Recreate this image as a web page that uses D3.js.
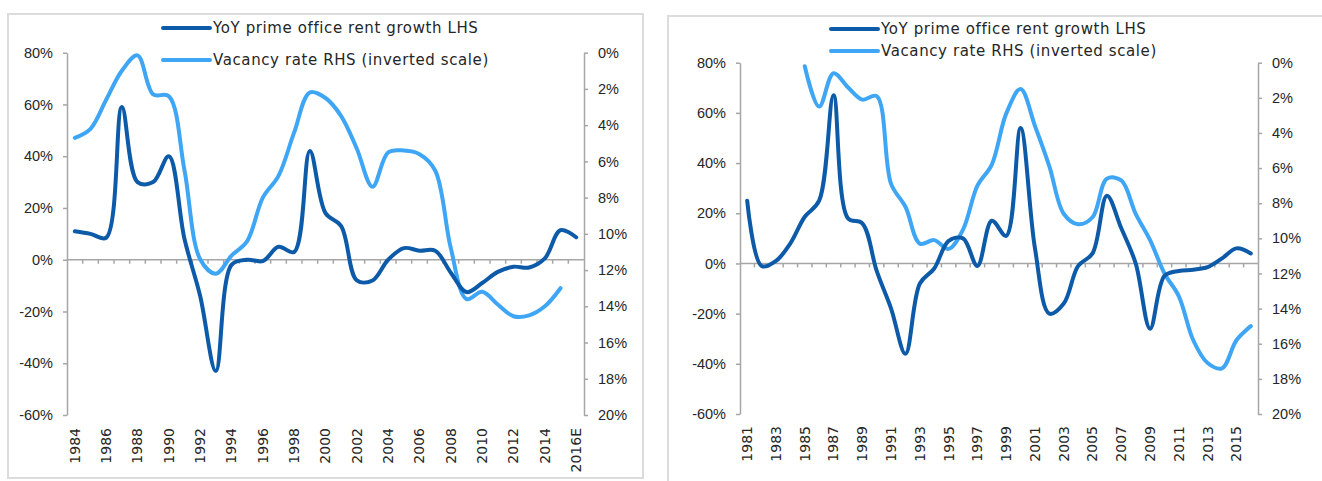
<!DOCTYPE html>
<html>
<head>
<meta charset="utf-8">
<script src="https://cdn.jsdelivr.net/npm/d3@7"></script>
<style>
  body { margin: 0; background: #fff; }
  svg { display: block; font-family: "DejaVu Sans", sans-serif; }
  .axis path, .axis line { stroke: #a6a6a6; stroke-width: 1.5; }
  .axis text { fill: #262626; font-size: 14.5px; }
  .cat-label { fill: #262626; font-size: 14px; }
  .legend text { fill: #262626; font-size: 15px; letter-spacing: 0.6px; }
</style>
</head>
<body>
<svg id="chart" width="1322" height="481"></svg>
<script>
// left panel: 1984 - 2016E
const yearsA = d3.range(1984, 2016).map(String).concat(['2016E'])
const rentA = [11, 10, 8.5, 59, 30, 30, 40, 8, -14, -43, -2, 0, -0.5, 5, 3, 42,
  18, 13, -8, -8, 0, 4.5, 3.5, 3.5, -5, -12.5, -9, -4.7, -2.7, -3, 0.5, 11.4, 8.7]
const vacA = [4.7, 4.2, 2.6, 1.0, 0.15, 2.3, 2.4, 6.5, 11.4, 12.2, 11.2, 10.4, 8.0,
  6.8, 4.4, 2.2, 2.5, 3.5, 5.3, 7.4, 5.5, 5.4, 5.6, 6.5, 10.8, 13.6, 13.2, 13.9,
  14.55, 14.5, 14.0, 13.0, null]

// right panel: 1981 - 2016
const yearsB = d3.range(1981, 2017).map(String)
const rentB = [25, -1, 1, 8, 18.6, 25, 67, 18, 16, -3, -18, -36, -8, -2, 9, 10, -1,
  17, 11, 54, 6, -20, -16, -1, 4, 27, 14, 0, -26, -5, -3, -2.5, -1.5, 2, 6, 4]
const vacB = [null, null, null, null, 0.2, 2.5, 0.6, 1.4, 2.1, 1.9, 6.9, 8.2, 10.3,
  10.1, 10.6, 9.5, 7.0, 5.8, 2.9, 1.5, 3.6, 5.9, 8.6, 9.2, 8.8, 6.6, 6.7, 8.6,
  10.1, 12.0, 13.3, 15.8, 17.1, 17.4, 15.8, 15.0]

const lhsTicks = [-60, -40, -20, 0, 20, 40, 60, 80]
const rhsTicks = [0, 2, 4, 6, 8, 10, 12, 14, 16, 18, 20]
const legendLabels = ['YoY prime office rent growth LHS', 'Vacancy rate RHS (inverted scale)']

const darkBlue = '#0d5ba8'
const lightBlue = '#3ea6f4'

const svg = d3.select('#chart')

// panel frames
svg.append('rect').attr('x', 8).attr('y', 14).attr('width', 635).attr('height', 464)
  .attr('fill', 'none').attr('stroke', '#dcdcdc').attr('stroke-width', 2)
svg.append('rect').attr('x', 668).attr('y', 16).attr('width', 700).attr('height', 480)
  .attr('fill', 'none').attr('stroke', '#dcdcdc').attr('stroke-width', 2)

function drawPanel(p) {
  const g = svg.append('g')

  const x = d3.scaleBand().domain(p.years).range([p.left, p.right]).padding(0)
  const yL = d3.scaleLinear().domain([-60, 80]).range([p.bottom, p.top])
  const yR = d3.scaleLinear().domain([0, 20]).range([p.top, p.bottom])
  const cx = d => x(d) + x.bandwidth() / 2

  // left axis
  g.append('g').attr('class', 'axis')
    .attr('transform', `translate(${p.left},0)`)
    .call(d3.axisLeft(yL).tickValues(lhsTicks).tickFormat(d => d + '%')
      .tickSizeInner(4).tickSizeOuter(0).tickPadding(10))

  // right axis (inverted)
  g.append('g').attr('class', 'axis')
    .attr('transform', `translate(${p.right},0)`)
    .call(d3.axisRight(yR).tickValues(rhsTicks).tickFormat(d => d + '%')
      .tickSizeInner(4).tickSizeOuter(0).tickPadding(10))

  // category axis at zero with ticks between categories
  const y0 = yL(0)
  const ax = g.append('g').attr('class', 'axis')
  ax.append('line').attr('x1', p.left).attr('x2', p.right).attr('y1', y0).attr('y2', y0)
  ax.selectAll('line.tick').data(p.years.slice(1)).join('line').attr('class', 'tick')
    .attr('x1', d => x(d)).attr('x2', d => x(d)).attr('y1', y0).attr('y2', y0 + 4)

  // year labels, every other one
  g.selectAll('text.cat-label').data(p.years.filter((d, i) => i % 2 === 0)).join('text')
    .attr('class', 'cat-label')
    .attr('transform', d => `translate(${cx(d)},${p.labelY}) rotate(-90)`)
    .attr('text-anchor', 'end').attr('dy', '0.35em')
    .text(d => d)

  const line = (yScale) => d3.line()
    .defined(d => d[1] != null)
    .x(d => cx(d[0])).y(d => yScale(d[1]))
    .curve(d3.curveCatmullRom.alpha(0.5))

  g.append('path').datum(p.years.map((d, i) => [d, p.vac[i]]))
    .attr('d', line(yR)).attr('fill', 'none').attr('stroke', lightBlue)
    .attr('stroke-width', 4).attr('stroke-linejoin', 'round').attr('stroke-linecap', 'round')

  g.append('path').datum(p.years.map((d, i) => [d, p.rent[i]]))
    .attr('d', line(yL)).attr('fill', 'none').attr('stroke', darkBlue)
    .attr('stroke-width', 4).attr('stroke-linejoin', 'round').attr('stroke-linecap', 'round')

  // legend
  const lg = g.append('g').attr('class', 'legend')
  ;[darkBlue, lightBlue].forEach((c, i) => {
    const ly = p.legendY[i]
    lg.append('line').attr('x1', p.legendX).attr('x2', p.legendX + 47)
      .attr('y1', ly).attr('y2', ly).attr('stroke', c).attr('stroke-width', 4)
      .attr('stroke-linecap', 'round')
    lg.append('text').attr('x', p.legendX + 50).attr('y', ly).attr('dy', '0.35em')
      .text(legendLabels[i])
  })
}

drawPanel({
  years: yearsA, rent: rentA, vac: vacA,
  left: 67, right: 584, top: 52.7, bottom: 415, labelY: 428,
  legendX: 163, legendY: [28, 60]
})

drawPanel({
  years: yearsB, rent: rentB, vac: vacB,
  left: 740, right: 1258, top: 62.7, bottom: 414, labelY: 426,
  legendX: 831, legendY: [29, 51]
})
</script>
</body>
</html>
